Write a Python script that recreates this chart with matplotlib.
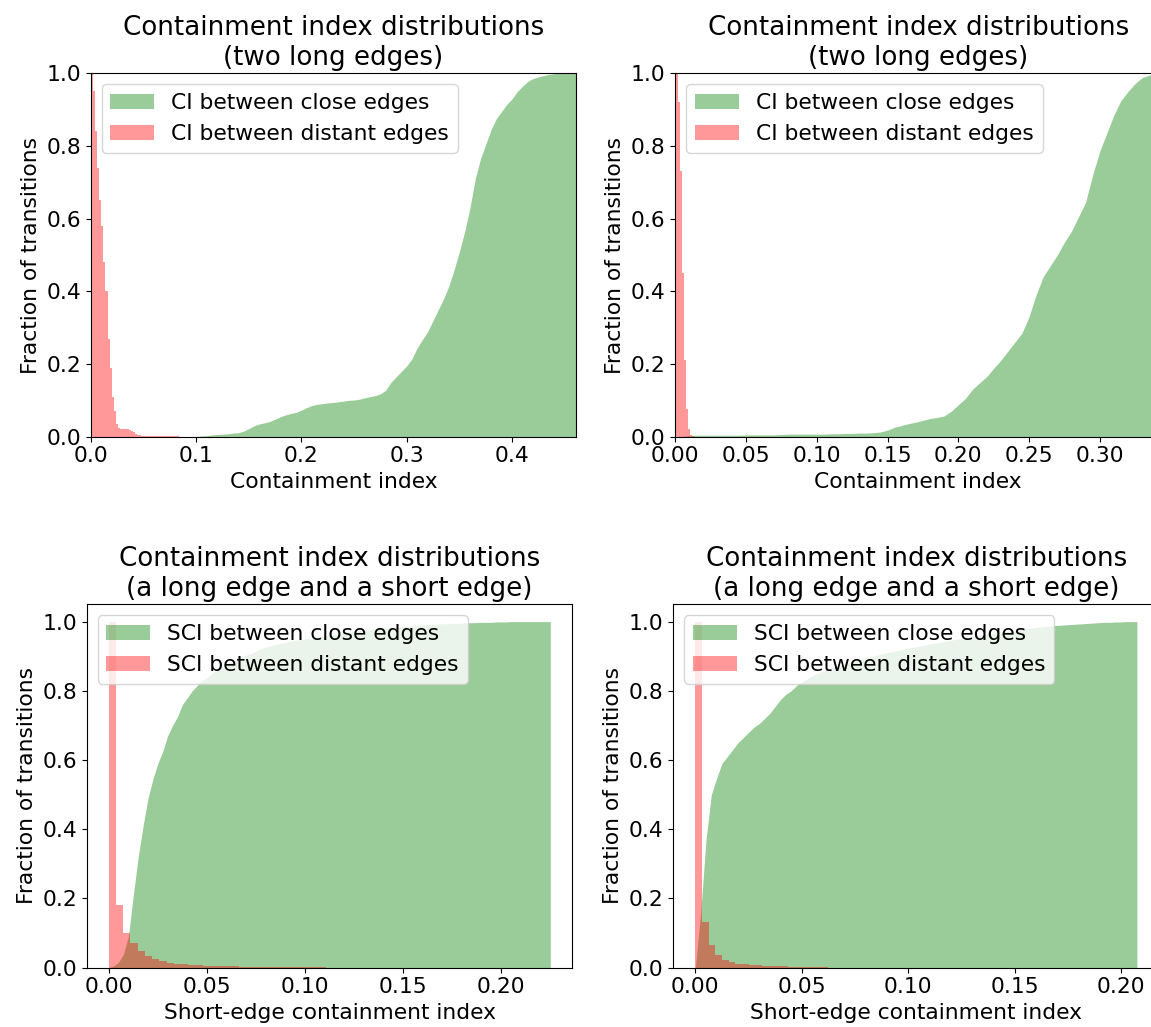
import matplotlib
matplotlib.use("Agg")
import matplotlib.pyplot as plt
import numpy as np

# Cumulative fraction of close-edge pairs, CI between two long edges (panel A),
# sampled every 0.005 starting at 0.10.
ci_close_a_start = 0.10
ci_close_a_step = 0.005
ci_close_a = [
    0.001, 0.002, 0.003, 0.005, 0.006, 0.007, 0.008, 0.010, 0.011, 0.015,
    0.022, 0.030, 0.035, 0.038, 0.042, 0.048, 0.055, 0.060, 0.064, 0.067,
    0.073, 0.080, 0.086, 0.089, 0.091, 0.093, 0.094, 0.096, 0.098, 0.100,
    0.101, 0.103, 0.107, 0.110, 0.113, 0.118, 0.128, 0.150, 0.165, 0.180,
    0.195, 0.215, 0.245, 0.268, 0.290, 0.320, 0.350, 0.380, 0.415, 0.460,
    0.510, 0.565, 0.630, 0.710, 0.765, 0.805, 0.845, 0.875, 0.895, 0.915,
    0.930, 0.950, 0.965, 0.978, 0.986, 0.990, 0.994, 0.997, 0.999, 1.000,
    1.000, 1.000, 1.000, 1.000,
]
# Normalised histogram of distant-edge pairs (panel A), bins of 0.002.
ci_distant_a_width = 0.002
ci_distant_a = [
    1.00, 0.95, 0.84, 0.74, 0.65, 0.58, 0.48, 0.40, 0.27, 0.19,
    0.11, 0.07, 0.035, 0.024, 0.022, 0.022, 0.021, 0.020, 0.019, 0.016,
    0.012, 0.008, 0.005, 0.004, 0.003, 0.002, 0.002, 0.002, 0.002, 0.002,
    0.002, 0.002, 0.002, 0.0015, 0.0015, 0.0015, 0.0015, 0.001, 0.001, 0.001,
    0.001, 0.001,
]

# Panel B: the second long-edge data set.
ci_close_b_start = 0.0
ci_close_b_step = 0.005
ci_close_b = [
    0.0, 0.001, 0.003, 0.004, 0.004, 0.004, 0.004, 0.004, 0.004, 0.004,
    0.005, 0.005, 0.005, 0.005, 0.005, 0.006, 0.007, 0.007, 0.007, 0.007,
    0.007, 0.007, 0.008, 0.008, 0.009, 0.009, 0.010, 0.010, 0.011, 0.013,
    0.018, 0.026, 0.031, 0.036, 0.040, 0.045, 0.050, 0.053, 0.057, 0.070,
    0.088, 0.105, 0.130, 0.148, 0.165, 0.188, 0.210, 0.235, 0.260, 0.285,
    0.330, 0.390, 0.440, 0.470, 0.500, 0.535, 0.565, 0.605, 0.645, 0.720,
    0.785, 0.835, 0.885, 0.925, 0.950, 0.972, 0.988, 0.995, 1.000, 1.000,
]
ci_distant_b_width = 0.0015
ci_distant_b = [1.0, 0.92, 0.73, 0.45, 0.21, 0.075, 0.02, 0.006, 0.003]

# Panels C and D: short-edge containment index, sampled every 0.0025.
sci_close_c_step = 0.0025
sci_close_c = [
    0.000, 0.005, 0.016, 0.040, 0.090, 0.210, 0.320, 0.410, 0.490, 0.545,
    0.590, 0.625, 0.670, 0.700, 0.725, 0.760, 0.780, 0.800, 0.815, 0.830,
    0.838, 0.850, 0.860, 0.868, 0.876, 0.884, 0.890, 0.897, 0.903, 0.909,
    0.915, 0.921, 0.926, 0.930, 0.934, 0.937, 0.940, 0.943, 0.946, 0.948,
    0.950, 0.952, 0.955, 0.957, 0.960, 0.962, 0.964, 0.966, 0.968, 0.970,
    0.972, 0.974, 0.976, 0.977, 0.979, 0.980, 0.982, 0.983, 0.984, 0.985,
    0.986, 0.987, 0.988, 0.989, 0.990, 0.991, 0.992, 0.993, 0.994, 0.994,
    0.995, 0.995, 0.996, 0.996, 0.997, 0.997, 0.998, 0.998, 0.998, 0.999,
    0.999, 0.999, 1.000, 1.000, 1.000, 1.000, 1.000, 1.000, 1.000, 1.000,
    1.000,
]
sci_distant_c_width = 0.1105 / 30
sci_distant_c = [
    1.0, 0.18, 0.10, 0.072, 0.048, 0.035, 0.024, 0.019, 0.015, 0.012,
    0.010, 0.009, 0.007, 0.006, 0.005, 0.005, 0.004, 0.004, 0.003, 0.003,
    0.003, 0.002, 0.002, 0.002, 0.002, 0.002, 0.001, 0.001, 0.001, 0.001,
]

sci_close_d_step = 0.0025
sci_close_d = [
    0.000, 0.160, 0.370, 0.500, 0.548, 0.590, 0.610, 0.630, 0.650, 0.665,
    0.680, 0.695, 0.705, 0.720, 0.735, 0.755, 0.775, 0.790, 0.800, 0.815,
    0.825, 0.835, 0.843, 0.851, 0.858, 0.865, 0.870, 0.874, 0.878, 0.882,
    0.887, 0.891, 0.895, 0.899, 0.902, 0.906, 0.910, 0.913, 0.916, 0.920,
    0.923, 0.926, 0.929, 0.932, 0.935, 0.938, 0.940, 0.943, 0.946, 0.949,
    0.952, 0.955, 0.958, 0.960, 0.963, 0.965, 0.967, 0.969, 0.971, 0.973,
    0.975, 0.977, 0.979, 0.981, 0.983, 0.985, 0.986, 0.988, 0.989, 0.990,
    0.991, 0.992, 0.993, 0.994, 0.995, 0.996, 0.997, 0.998, 0.998, 0.999,
    0.999, 1.000, 1.000, 1.000,
]
sci_distant_d_width = 0.0625 / 20
sci_distant_d = [
    1.0, 0.131, 0.066, 0.037, 0.022, 0.016, 0.012, 0.010, 0.008, 0.007,
    0.006, 0.005, 0.004, 0.004, 0.003, 0.003, 0.002, 0.002, 0.002, 0.001,
]

plt.rcParams["font.size"] = 15.7


def draw_panel(ax, close, close_step, close_start, distant, distant_width,
               short):
    name = "SCI" if short else "CI"
    x_close = close_start + close_step * np.arange(len(close))
    ax.fill_between(x_close, close, color="green", alpha=0.4, linewidth=0,
                    label=name + " between close edges")
    edges = distant_width * np.arange(len(distant) + 1)
    ax.stairs(distant, edges, fill=True, color="red", alpha=0.4,
              label=name + " between distant edges")
    if short:
        ax.set_title("Containment index distributions\n"
                     "(a long edge and a short edge)", fontsize=18.8)
        ax.set_xlabel("Short-edge containment index")
    else:
        ax.set_title("Containment index distributions\n(two long edges)",
                     fontsize=18.8)
        ax.set_xlabel("Containment index")
    ax.set_ylabel("Fraction of transitions")
    ax.legend(loc="upper left")


W, H = 1151, 1027
fig = plt.figure(figsize=(W / 100, H / 100), dpi=100)


def axes_at(x0, y0, x1, y1):
    return fig.add_axes([x0 / W, 1 - y1 / H, (x1 - x0) / W, (y1 - y0) / H])


ax_a = axes_at(90.7, 73.3, 576.4, 436.7)
ax_b = axes_at(675.4, 73.3, 1161.1, 436.7)
ax_c = axes_at(86.7, 604.3, 572.4, 967.7)
ax_d = axes_at(673.3, 604.3, 1159.0, 967.7)

draw_panel(ax_a, ci_close_a, ci_close_a_step, ci_close_a_start,
           ci_distant_a, ci_distant_a_width, False)
ax_a.set_xlim(0, 0.461)
ax_a.set_ylim(0, 1)

draw_panel(ax_b, ci_close_b, ci_close_b_step, ci_close_b_start,
           ci_distant_b, ci_distant_b_width, False)
ax_b.set_xlim(0, 0.3434)
ax_b.set_ylim(0, 1)

draw_panel(ax_c, sci_close_c, sci_close_c_step, 0.0,
           sci_distant_c, sci_distant_c_width, True)
ax_c.set_ylim(0, 1.05)
draw_panel(ax_d, sci_close_d, sci_close_d_step, 0.0,
           sci_distant_d, sci_distant_d_width, True)
ax_d.set_ylim(0, 1.05)

fig.savefig("out.png", dpi=100)
